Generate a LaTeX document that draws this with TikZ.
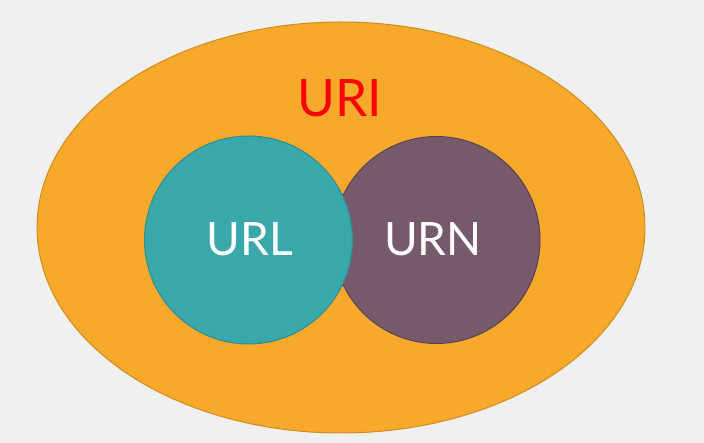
\documentclass[tikz,border=0pt]{standalone}
\usepackage{fontspec}
\setmainfont{Lato}
\definecolor{bg}{HTML}{F0F0F0}
\definecolor{orangefill}{HTML}{F6A92A}
\definecolor{orangeline}{HTML}{D08E22}
\definecolor{tealfill}{HTML}{3AA8AA}
\definecolor{tealline}{HTML}{2E8D8E}
\definecolor{purplefill}{HTML}{77596C}
\definecolor{purpleline}{HTML}{5A4251}
\definecolor{urired}{HTML}{FF0000}
\begin{document}
\begin{tikzpicture}[x=1pt,y=-1pt,
  setshape/.style={line width=1pt},
  lbl/.style={font=\fontsize{46}{50}\selectfont, text=white, inner sep=0pt, anchor=base}]
\fill[bg] (0,0) rectangle (704,443);
\useasboundingbox (0,0) rectangle (704,443);
\draw[setshape, fill=orangefill, draw=orangeline] (341,227.5) ellipse [x radius=304, y radius=205.5];
\node[font=\fontsize{51.5}{55}\selectfont, text=urired, inner sep=0pt, anchor=base] (uri) at (340,117) {URI};
\draw[setshape, fill=purplefill, draw=purpleline] (436.5,240) circle [radius=103.5];
\draw[setshape, fill=tealfill, draw=tealline] (248.5,240) circle [radius=104];
\node[lbl] (url) at (250,256) {URL};
\node[lbl] (urn) at (433,256) {URN};
\end{tikzpicture}
\end{document}
